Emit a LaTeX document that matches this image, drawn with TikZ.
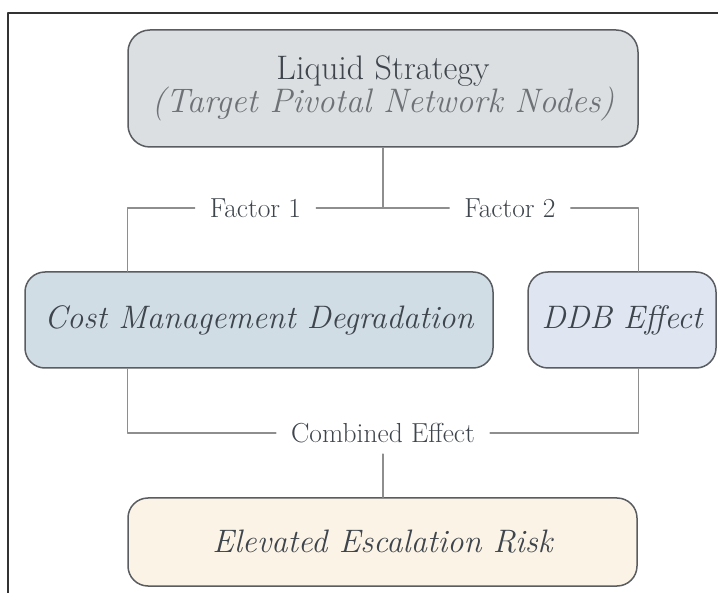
\documentclass[tikz,border=0pt]{standalone}
\usepackage{xcolor}
\definecolor{lsgray}{HTML}{DCDFE2}
\definecolor{lsblue}{HTML}{D1DDE5}
\definecolor{lslav}{HTML}{DFE6F1}
\definecolor{lscream}{HTML}{FBF3E6}
\definecolor{lsedge}{HTML}{595C60}
\definecolor{lsline}{HTML}{8E8E8E}
\definecolor{lstext}{HTML}{3E454C}
\definecolor{lssub}{HTML}{6E7276}
\usepackage{tikz}
\usetikzlibrary{positioning,calc}
\tikzset{
  every picture/.style={line cap=round, line join=round},
  box/.style={rounded corners=20pt, draw=lsedge, line width=1.5pt, text=lstext,
    align=center, inner sep=0pt},
  boxfont/.style={font=\fontsize{32.5}{30}\selectfont\itshape},
  link/.style={lsline, line width=1.3pt},
  lbl/.style={text=lstext, font=\fontsize{27.5}{28}\selectfont, inner xsep=15pt, inner ysep=11pt},
  frame/.style={black!80, line width=2pt, line cap=butt},
}

\begin{document}
\begin{tikzpicture}[x=1pt, y=1pt]
\useasboundingbox (0,0) rectangle (718,-593);
\draw[frame] (718,-13) -- (8,-13) -- (8,-593);

% boxes
\node[box, fill=lsgray, minimum width=510pt, minimum height=117pt, rounded corners=22pt,
  font=\fontsize{34}{30}\selectfont] (top) at (383,-88.5)
  {Liquid Strategy\\{\color{lssub}\itshape (Target Pivotal Network Nodes)}};
\node[box, boxfont, fill=lsblue, minimum width=468pt, minimum height=96pt] (cost) at (259,-320)
  {Cost Management Degradation};
\node[box, boxfont, fill=lslav, minimum width=188pt, minimum height=96pt] (ddb) at (622,-320)
  {DDB Effect};
\node[box, boxfont, fill=lscream, minimum width=509pt, minimum height=88pt] (risk) at (382.5,-542)
  {Elevated Escalation Risk};

% labels on the branches
\node[lbl] (fac1) at (255.5,-208) {Factor 1};
\node[lbl] (fac2) at (510,-208) {Factor 2};
\node[lbl] (comb) at (383,-433) {Combined Effect};
\coordinate (split) at (top.south |- fac1.center);

\draw[link] (top.south) -- (split);
\draw[link] (fac1.east) -- (split) -- (fac2.west);
\draw[link] (fac1.west) -| (cost.north -| top.west);
\draw[link] (fac2.east) -| (ddb.north -| top.east);
\draw[link] (cost.south -| top.west) |- (comb.west);
\draw[link] (ddb.south -| top.east) |- (comb.east);
\draw[link] (comb.south) -- (risk.north -| comb.south);
\end{tikzpicture}
\end{document}
